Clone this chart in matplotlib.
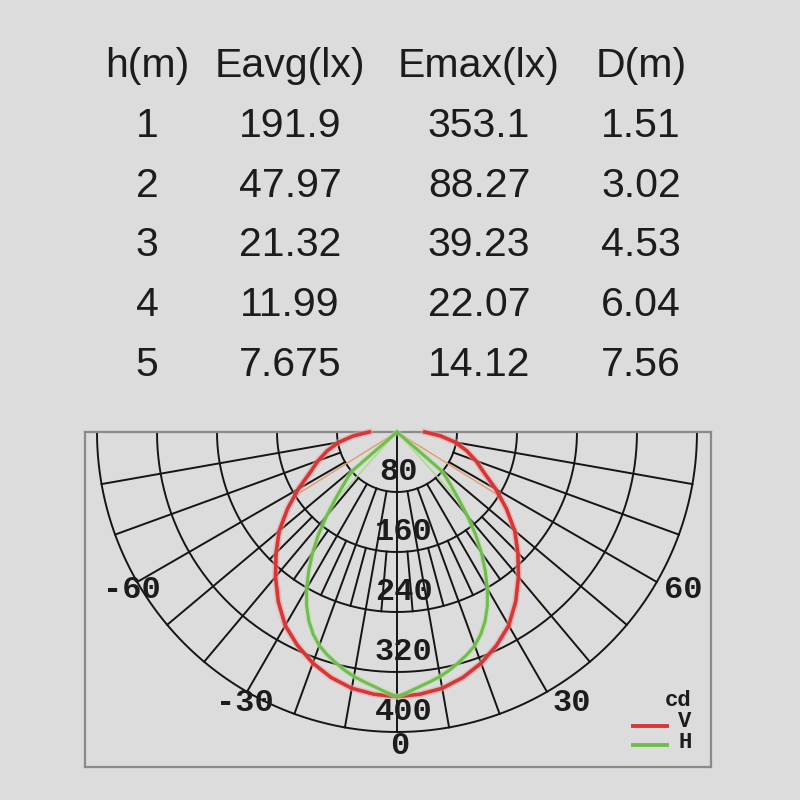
import matplotlib.pyplot as plt
import numpy as np

plt.rcParams['font.family'] = ['Liberation Sans', 'DejaVu Sans']

# ---- table data
header = ['h(m)', 'Eavg(lx)', 'Emax(lx)', 'D(m)']
heights = ['1', '2', '3', '4', '5']
e_avg = ['191.9', '47.97', '21.32', '11.99', '7.675']
e_max = ['353.1', '88.27', '39.23', '22.07', '14.12']
diam = ['1.51', '3.02', '4.53', '6.04', '7.56']

# ---- light distribution (cd) by angle from nadir, symmetric
ang_v = [0, 5, 10, 15, 20, 25, 30, 35, 40, 45, 50, 55, 60, 65, 70, 75, 80, 85, 90]
cd_v = [353, 351, 347, 339, 328, 314, 298, 276, 252, 228, 205, 178, 152, 128, 112, 96, 79, 58, 37]

ang_h = [0, 2.5, 5, 7.5, 10, 12.5, 15, 17.5, 20, 22.5, 25, 27.5, 30, 32.5, 35,
         37.5, 40, 42.5, 45, 47.5, 49, 50]
cd_h = [353, 347, 341, 336, 331, 325, 318, 311, 303, 292, 278, 261, 241, 219, 196,
        172, 146, 122, 103, 88, 78, 0]

rings = [80, 160, 240, 320, 400]
angle_ticks = [-60, -30, 0, 30, 60]

BG = '#dcdcdc'
TXT = '#1c1c1c'

fig = plt.figure(figsize=(8, 8), dpi=100, facecolor=BG)

# ---- table (as text)
col_x = [147, 290, 479, 641]
row_y = [77, 137, 197, 256, 316, 376]
cols = [heights, e_avg, e_max, diam]
for j, name in enumerate(header):
    fig.text(col_x[j] / 800, 1 - row_y[0] / 800, name, ha='center', va='baseline',
             fontsize=29.5, color=TXT)
    for i, val in enumerate(cols[j]):
        fig.text(col_x[j] / 800, 1 - row_y[i + 1] / 800, val, ha='center',
                 va='baseline', fontsize=29.5, color=TXT)

# ---- polar diagram in cd units (x = r sin a, y = -r cos a)
ax = fig.add_axes([85 / 800, 33 / 800, 626 / 800, 335 / 800])
ax.set_facecolor(BG)
ax.set_xlim(-416, 418.7)
ax.set_ylim(-446.7, 0)
ax.set_xticks([])
ax.set_yticks([])
for s in ax.spines.values():
    s.set_color('#8a8a8a')
    s.set_linewidth(1.6)


def xy(r, a):
    a = np.radians(a)
    return np.asarray(r) * np.sin(a), -np.asarray(r) * np.cos(a)


grid_kw = dict(color='#151515', lw=1.4, clip_on=False, zorder=2)
t = np.linspace(-90, 90, 361)
for r in rings:
    ax.plot(*xy(r, t), **grid_kw)
# main radial lines
for a in [-90, 0, 90]:
    ax.plot(*xy([0, 400], [a, a]), **grid_kw)
for a in range(10, 90, 10):
    for s in (-1, 1):
        ax.plot(*xy([80, 400], [s * a, s * a]), **grid_kw)
for a in range(5, 50, 10):
    for s in (-1, 1):
        ax.plot(*xy([160, 240], [s * a, s * a]), **grid_kw)

# ---- curves
av = np.array(ang_v, dtype=float)
cv = np.array(cd_v, dtype=float)
ah = np.array(ang_h, dtype=float)
ch = np.array(cd_h, dtype=float)
full_av = np.concatenate([-av[::-1], av[1:]])
full_cv = np.concatenate([cv[::-1], cv[1:]])
full_ah = np.concatenate([-ah[::-1], ah[1:]])
full_ch = np.concatenate([ch[::-1], ch[1:]])

# thin spokes
for s in (-1, 1):
    ax.plot(*xy([0, np.interp(58, av, cv)], [s * 58, s * 58]), color='#e39a6c', lw=1.0, zorder=3)
    ax.plot(*xy([0, np.interp(42, ah, ch)], [s * 42, s * 42]), color='#a9d88f', lw=1.0, zorder=3)

ax.plot(*xy(full_cv, full_av), color='#f2a0a0', lw=4.8, alpha=0.5, zorder=4, clip_on=False)
ax.plot(*xy(full_cv, full_av), color='#d93535', lw=2.6, zorder=5, clip_on=False)
ax.plot(*xy(full_ch, full_ah), color='#b5e0a0', lw=4.0, alpha=0.5, zorder=6, clip_on=False)
ax.plot(*xy(full_ch, full_ah), color='#6fbd4c', lw=2.2, zorder=7, clip_on=False)

# ---- labels
mono = ['Liberation Mono', 'DejaVu Sans Mono']
for r in rings:
    dx = 2 if r < 100 else 9
    ax.text(dx, -r + 26.7, str(r), ha='center', va='center', fontsize=23,
            family=mono, weight='bold', color=TXT, zorder=8)

label_pos = {-60: (-353.7, -210.7), 60: (382, -210.7), -30: (-202.7, -360.7),
             30: (233.3, -360.7), 0: (4, -419)}
for a in angle_ticks:
    x, y = label_pos[a]
    ax.text(x, y, '%d' % a, ha='center', va='center', fontsize=23, family=mono,
            weight='bold', color=TXT, zorder=8)

# legend
ax.text(393, -386, 'cd\nV\nH', ha='right', va='center', ma='right', fontsize=16,
        family=mono, weight='bold', color=TXT, linespacing=0.98)
ax.plot([315, 360], [-392, -392], color='#d93535', lw=2.8)
ax.plot([315, 360], [-417, -417], color='#6fbd4c', lw=2.8)

fig.savefig('out.png', dpi=100, facecolor=BG)
